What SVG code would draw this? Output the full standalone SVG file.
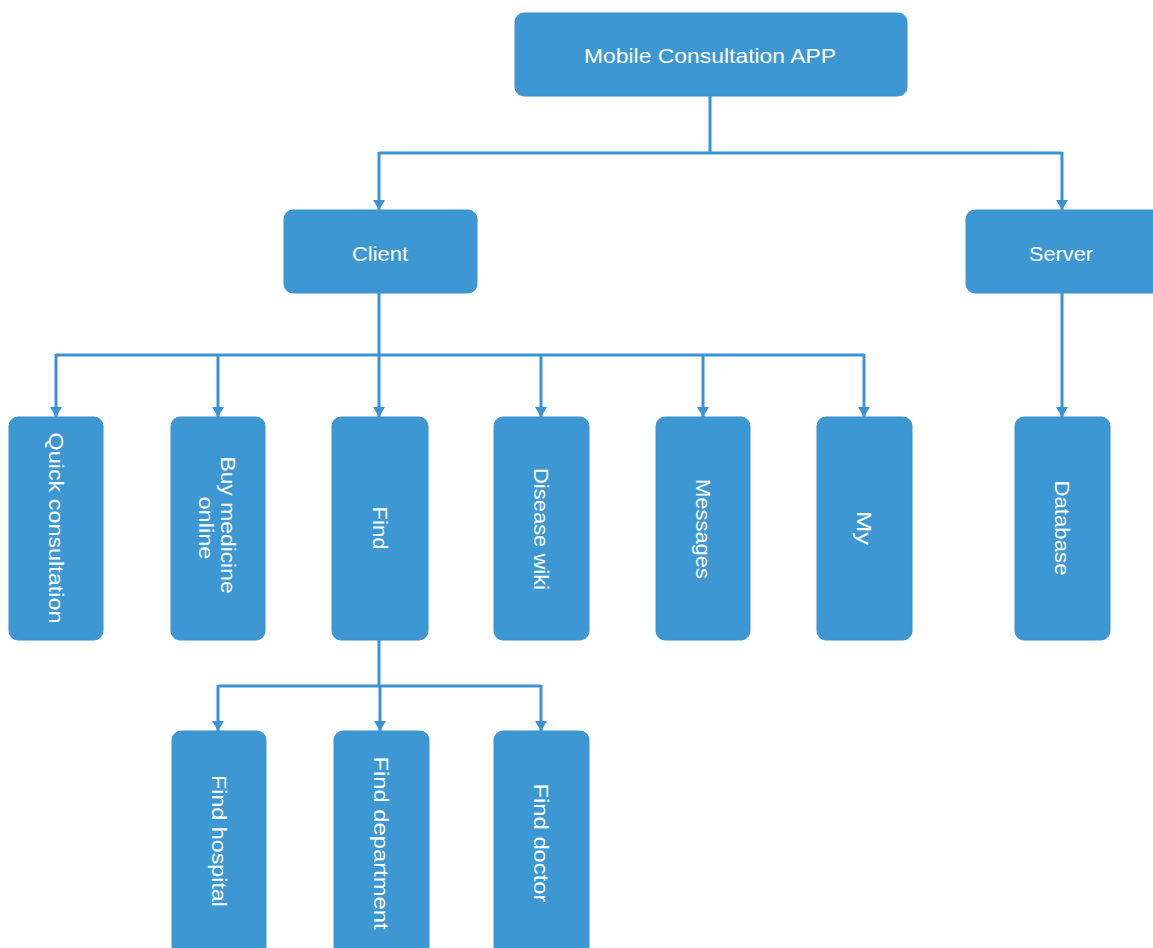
<svg xmlns="http://www.w3.org/2000/svg" width="1153" height="948" viewBox="0 0 1153 948">
  <style>
    .box { fill: #3c97d3; stroke: #3a93cf; stroke-width: 1; }
    .lbl { fill: #ffffff; font-family: "Liberation Sans", Arial, sans-serif; font-size: 21px; text-anchor: middle; dominant-baseline: central; }
    .wire { fill: none; stroke: #3b94d1; stroke-width: 3; }
  </style>
  <defs>
    <marker id="arrow" markerWidth="12" markerHeight="12" refX="10" refY="6" orient="auto" markerUnits="userSpaceOnUse">
      <path d="M0,0 L10,6 L0,12 Z" fill="#3b94d1"/>
    </marker>
  </defs>
  <rect width="1153" height="948" fill="#ffffff"/>

  <!-- connectors -->
  <g id="connectors">
    <path class="wire" d="M710,95 V153"/>
    <path class="wire" d="M379,153 H1062"/>
    <path class="wire" d="M379,152 V210" marker-end="url(#arrow)"/>
    <path class="wire" d="M1062,152 V210" marker-end="url(#arrow)"/>

    <path class="wire" d="M379,293 V355"/>
    <path class="wire" d="M56,355 H864"/>
    <path class="wire" d="M56,354 V417" marker-end="url(#arrow)"/>
    <path class="wire" d="M218,354 V417" marker-end="url(#arrow)"/>
    <path class="wire" d="M379,354 V417" marker-end="url(#arrow)"/>
    <path class="wire" d="M541,354 V417" marker-end="url(#arrow)"/>
    <path class="wire" d="M703,354 V417" marker-end="url(#arrow)"/>
    <path class="wire" d="M864,354 V417" marker-end="url(#arrow)"/>

    <path class="wire" d="M1062,293 V417" marker-end="url(#arrow)"/>

    <path class="wire" d="M379,640 V686"/>
    <path class="wire" d="M218,686 H541"/>
    <path class="wire" d="M218,685 V731" marker-end="url(#arrow)"/>
    <path class="wire" d="M380,685 V731" marker-end="url(#arrow)"/>
    <path class="wire" d="M541,685 V731" marker-end="url(#arrow)"/>
  </g>

  <!-- level 0 -->
  <g id="app">
    <rect class="box" x="515" y="13" width="392" height="83" rx="9"/>
    <text class="lbl" x="710" y="55" textLength="252" lengthAdjust="spacingAndGlyphs">Mobile Consultation APP</text>
  </g>

  <!-- level 1 -->
  <g id="client">
    <rect class="box" x="284" y="210" width="193" height="83" rx="9"/>
    <text class="lbl" x="380" y="253" textLength="56" lengthAdjust="spacingAndGlyphs">Client</text>
  </g>
  <g id="server">
    <rect class="box" x="966" y="210" width="196" height="83" rx="9"/>
    <text class="lbl" x="1061" y="253" textLength="64" lengthAdjust="spacingAndGlyphs">Server</text>
  </g>

  <!-- level 2 (client modules) -->
  <g id="quick-consultation">
    <rect class="box" x="9" y="417" width="94" height="223" rx="9"/>
    <text class="lbl" x="56" y="528" transform="rotate(90 56 528)" textLength="191" lengthAdjust="spacingAndGlyphs">Quick consultation</text>
  </g>
  <g id="buy-medicine">
    <rect class="box" x="171" y="417" width="94" height="223" rx="9"/>
    <text class="lbl" transform="rotate(90 218 528)">
      <tspan x="218" y="517" textLength="137" lengthAdjust="spacingAndGlyphs">Buy medicine</tspan>
      <tspan x="218" y="539" textLength="63" lengthAdjust="spacingAndGlyphs">online</tspan>
    </text>
  </g>
  <g id="find">
    <rect class="box" x="332" y="417" width="96" height="223" rx="9"/>
    <text class="lbl" x="380" y="528" transform="rotate(90 380 528)" textLength="43" lengthAdjust="spacingAndGlyphs">Find</text>
  </g>
  <g id="disease-wiki">
    <rect class="box" x="494" y="417" width="95" height="223" rx="9"/>
    <text class="lbl" x="541" y="529" transform="rotate(90 541 529)" textLength="122" lengthAdjust="spacingAndGlyphs">Disease wiki</text>
  </g>
  <g id="messages">
    <rect class="box" x="656" y="417" width="94" height="223" rx="9"/>
    <text class="lbl" x="703" y="529" transform="rotate(90 703 529)" textLength="100" lengthAdjust="spacingAndGlyphs">Messages</text>
  </g>
  <g id="my">
    <rect class="box" x="817" y="417" width="95" height="223" rx="9"/>
    <text class="lbl" x="864" y="528" transform="rotate(90 864 528)" textLength="34" lengthAdjust="spacingAndGlyphs">My</text>
  </g>

  <!-- level 2 (server) -->
  <g id="database">
    <rect class="box" x="1015" y="417" width="95" height="223" rx="9"/>
    <text class="lbl" x="1062" y="528" transform="rotate(90 1062 528)" textLength="95" lengthAdjust="spacingAndGlyphs">Database</text>
  </g>

  <!-- level 3 (find sub-modules) -->
  <g id="find-hospital">
    <rect class="box" x="172" y="731" width="94" height="224" rx="9"/>
    <text class="lbl" x="219" y="841" transform="rotate(90 219 841)" textLength="132" lengthAdjust="spacingAndGlyphs">Find hospital</text>
  </g>
  <g id="find-department">
    <rect class="box" x="334" y="731" width="95" height="224" rx="9"/>
    <text class="lbl" x="381" y="843" transform="rotate(90 381 843)" textLength="173" lengthAdjust="spacingAndGlyphs">Find department</text>
  </g>
  <g id="find-doctor">
    <rect class="box" x="494" y="731" width="95" height="224" rx="9"/>
    <text class="lbl" x="541" y="843" transform="rotate(90 541 843)" textLength="119" lengthAdjust="spacingAndGlyphs">Find doctor</text>
  </g>
</svg>
